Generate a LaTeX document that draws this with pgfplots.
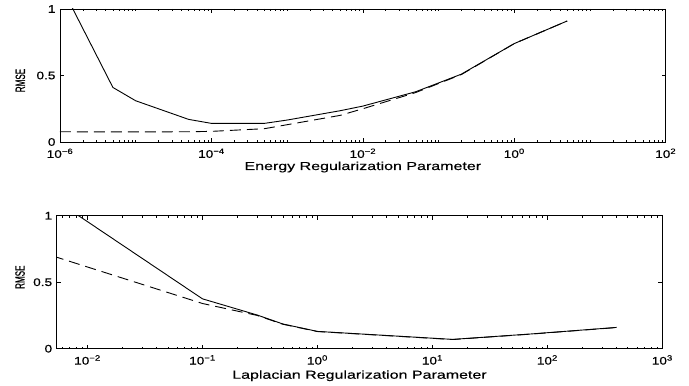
\documentclass[border=0pt]{standalone}
\usepackage{fontspec}
\usepackage{graphicx}
\setmainfont{Liberation Sans}[FakeStretch=1.24, FakeBold=0.4]
\newfontfamily\labfont{Liberation Sans}[FakeStretch=1.38, FakeBold=0.4]
\newfontfamily\yfont{Liberation Sans}[FakeBold=0.6]
\usepackage{pgfplots}
\pgfplotsset{compat=1.18}
\newcommand\tickf{\fontsize{11}{13}\selectfont}
\newcommand\labf{\fontsize{11.6}{13}\labfont}
\newcommand\ylab{\fontsize{13.5}{16}\yfont\scalebox{0.6}[1]{RMSE}}
\pgfplotsset{
  myax/.style={
    scale only axis,
    ymin=0, ymax=1,
    ytick={0,0.5,1},
    yticklabels={0,0.5,1},
    tick align=inside,
    major tick length=4pt,
    minor tick length=2pt,
    axis line style={line width=0.7pt},
    every tick/.style={black, line width=0.5pt},
    tick label style={font=\tickf},
    xticklabel style={yshift=-3pt},
    yticklabel style={xshift=-1pt},
    xlabel style={font=\labf, at={(axis description cs:0.5,0)}, anchor=base},
    ylabel style={at={(axis description cs:0,0.5)}, anchor=base},
    clip=true,
  },
}
\begin{document}
\begin{tikzpicture}[x=1pt,y=1pt]
\path (0,0) rectangle (689,386);
% ---------- top axis ----------
\begin{semilogxaxis}[myax,
  at={(60pt,244pt)}, anchor=south west,
  width=605.7pt, height=133pt,
  xmin=1e-6, xmax=1e2,
  xtick={1e-6,1e-4,1e-2,1,1e2},
  xticklabels={10\textsuperscript{−6},10\textsuperscript{−4},10\textsuperscript{−2},10\textsuperscript{0},10\textsuperscript{2}},
  minor xtick={2e-6,3e-6,4e-6,5e-6,6e-6,7e-6,8e-6,9e-6,
    1e-5,2e-5,3e-5,4e-5,5e-5,6e-5,7e-5,8e-5,9e-5,
    2e-4,3e-4,4e-4,5e-4,6e-4,7e-4,8e-4,9e-4,
    1e-3,2e-3,3e-3,4e-3,5e-3,6e-3,7e-3,8e-3,9e-3,
    2e-2,3e-2,4e-2,5e-2,6e-2,7e-2,8e-2,9e-2,
    1e-1,2e-1,3e-1,4e-1,5e-1,6e-1,7e-1,8e-1,9e-1,
    2,3,4,5,6,7,8,9,10,20,30,40,50,60,70,80,90},
  xlabel={Energy Regularization Parameter},
  xlabel style={yshift=-28pt},
  ylabel={\ylab},
  ylabel style={yshift=35pt, xshift=-5pt},
]
\addplot[black, line width=0.9pt] coordinates {
 (1e-6,1.19) (5e-6,0.41) (1e-5,0.31) (5e-5,0.17) (1e-4,0.14) (5e-4,0.14)
 (1e-3,0.165) (5e-3,0.235) (1e-2,0.27) (5e-2,0.378) (0.2,0.51) (1,0.74) (5,0.91)};
\addplot[black, line width=0.9pt, dash pattern=on 11pt off 6pt] coordinates {
 (1e-6,0.077) (5e-6,0.076) (1e-5,0.076) (5e-5,0.077) (1e-4,0.08) (5e-4,0.10)
 (1e-3,0.13) (5e-3,0.20) (1e-2,0.25) (5e-2,0.372) (0.2,0.507) (1,0.74) (5,0.91)};
\end{semilogxaxis}
% ---------- bottom axis ----------
\begin{semilogxaxis}[myax,
  at={(56.7pt,37.3pt)}, anchor=south west,
  width=605.6pt, height=133pt,
  xmin=0.0054, xmax=1e3,
  xtick={1e-2,1e-1,1,1e1,1e2,1e3},
  xticklabels={10\textsuperscript{−2},10\textsuperscript{−1},10\textsuperscript{0},10\textsuperscript{1},10\textsuperscript{2},10\textsuperscript{3}},
  minor xtick={6e-3,7e-3,8e-3,9e-3,
    2e-2,3e-2,4e-2,5e-2,6e-2,7e-2,8e-2,9e-2,
    2e-1,3e-1,4e-1,5e-1,6e-1,7e-1,8e-1,9e-1,
    2,3,4,5,6,7,8,9,20,30,40,50,60,70,80,90,
    200,300,400,500,600,700,800,900},
  xlabel={Laplacian Regularization Parameter},
  xlabel style={yshift=-30pt},
  ylabel={\ylab},
  ylabel style={yshift=32pt, xshift=5pt},
]
\addplot[black, line width=0.9pt] coordinates {
 (0.005,1.13) (0.1,0.375) (0.3,0.253) (0.5,0.186) (1,0.13) (15,0.07) (70,0.11) (400,0.16)};
\addplot[black, line width=0.9pt, dash pattern=on 11pt off 6pt] coordinates {
 (0.005,0.697) (0.1,0.34) (0.3,0.25) (0.5,0.184) (1,0.129) (15,0.069) (70,0.109) (400,0.159)};
\end{semilogxaxis}
\end{tikzpicture}
\end{document}
